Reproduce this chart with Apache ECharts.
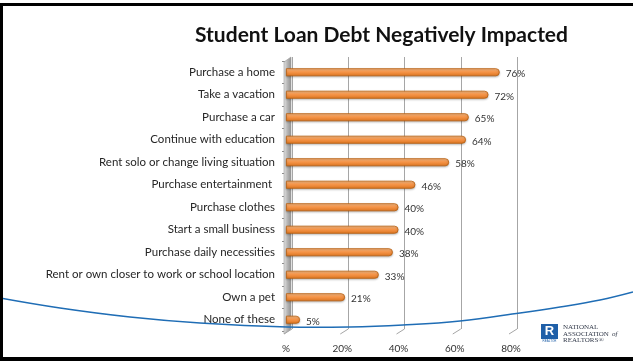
<!DOCTYPE html>
<html>
<head>
<meta charset="utf-8">
<script src="https://cdn.jsdelivr.net/npm/echarts@6/dist/echarts.min.js"></script>
<style>
  html, body { margin: 0; padding: 0; background: #fff; }
  #chart { width: 633px; height: 361px; }
</style>
</head>
<body>
<div id="chart"></div>
<script>
// Survey answers, top to bottom
const categories = [
  'Purchase a home',
  'Take a vacation',
  'Purchase a car',
  'Continue with education',
  'Rent solo or change living situation',
  'Purchase entertainment ',
  'Purchase clothes',
  'Start a small business',
  'Purchase daily necessities',
  'Rent or own closer to work or school location',
  'Own a pet',
  'None of these'
];
// Share of respondents (%)
const shares = [76, 72, 65, 64, 58, 46, 40, 40, 38, 33, 21, 5];
// Value axis ticks
const tickValues = [0, 20, 40, 60, 80];
const tickLabels = ['%', '20%', '40%', '60%', '80%'];

const FONT = 'Lato';
const chart = echarts.init(document.getElementById('chart'), null, { renderer: 'canvas' });

const frontGrid = { left: 286, top: 61, width: 225, height: 270 };
const backGrid = { left: 292, top: 57, width: 225, height: 272 };

const option = {
  backgroundColor: '#ffffff',
  animation: false,
  title: {
    text: 'Student Loan Debt Negatively Impacted',
    left: 190, top: 20,
    textStyle: { fontFamily: FONT, fontWeight: 'bold', fontSize: 21, color: '#111' }
  },
  grid: [
    Object.assign({ containLabel: false }, frontGrid),
    Object.assign({ containLabel: false }, backGrid)
  ],
  xAxis: [
    {
      gridIndex: 0, type: 'value', min: 0, max: 80, interval: 20,
      axisLine: { show: false }, axisTick: { show: false }, splitLine: { show: false },
      axisLabel: {
        margin: 13, fontFamily: FONT, fontSize: 10, color: '#333',
        formatter: v => tickLabels[tickValues.indexOf(v)]
      }
    },
    {
      gridIndex: 1, type: 'value', min: 0, max: 80, interval: 20,
      axisLine: { show: false }, axisTick: { show: false }, axisLabel: { show: false },
      splitLine: { show: true, lineStyle: { color: '#a6a6a6', width: 1 } }
    }
  ],
  yAxis: [
    {
      gridIndex: 0, type: 'category', data: categories, inverse: true,
      axisLine: { show: false },
      axisTick: { show: true, length: 4, lineStyle: { color: '#8c8c8c' } },
      axisLabel: {
        margin: 11, fontFamily: FONT, fontSize: 11.5, color: '#262626',
        padding: [5, 0, 0, 0]
      }
    },
    {
      gridIndex: 1, type: 'category', data: categories, inverse: true, show: false
    }
  ],
  series: [
    {
      // side wall and floor edges of the plot box
      type: 'custom', xAxisIndex: 0, yAxisIndex: 0, z: 1, silent: true,
      data: [0],
      renderItem: (params, api) => {
        const cs = params.coordSys;
        const x0 = cs.x, top = cs.y, bottom = cs.y + cs.height;
        const children = [{
          type: 'polygon',
          shape: { points: [[x0 - 2, top + 1], [x0 + 5, top - 4], [x0 + 5, bottom - 2], [x0 - 2, bottom + 3]] },
          style: {
            fill: new echarts.graphic.LinearGradient(0, 0, 1, 0, [
              { offset: 0, color: '#e4e4e4' },
              { offset: 0.5, color: '#b5b5b5' },
              { offset: 1, color: '#8f8f8f' }
            ]),
            stroke: '#9a9a9a', lineWidth: 0.6
          }
        }];
        tickValues.forEach(v => {
          const x = api.coord([v, 0])[0];
          children.push({
            type: 'line',
            shape: { x1: x - 2, y1: bottom + 3, x2: x + 6, y2: bottom - 2 },
            style: { stroke: '#a6a6a6', lineWidth: 1 }
          });
        });
        return { type: 'group', children };
      }
    },
    {
      type: 'bar', xAxisIndex: 0, yAxisIndex: 0, z: 3,
      data: shares, barWidth: 8,
      itemStyle: {
        color: new echarts.graphic.LinearGradient(0, 0, 0, 1, [
          { offset: 0, color: '#fbc08a' },
          { offset: 0.45, color: '#f7964a' },
          { offset: 1, color: '#d9731f' }
        ]),
        borderColor: '#b9600f', borderWidth: 0.8,
        borderRadius: [0, 4, 4, 0],
        shadowColor: 'rgba(0,0,0,0.25)', shadowBlur: 2, shadowOffsetY: 1
      },
      label: {
        show: true, position: 'right', distance: 6, offset: [0, 2],
        fontFamily: FONT, fontSize: 10, color: '#333',
        formatter: p => p.value + '%'
      }
    }
  ],
  graphic: [
    // slide frame
    { type: 'rect', shape: { x: 0, y: 3, width: 633, height: 3 }, style: { fill: '#000' }, z: 50 },
    { type: 'rect', shape: { x: 0, y: 3, width: 3, height: 358 }, style: { fill: '#000' }, z: 50 },
    { type: 'rect', shape: { x: 0, y: 357, width: 633, height: 4 }, style: { fill: '#000' }, z: 50 },
    // decorative sweep across the slide
    {
      type: 'polyline', z: 40, silent: true,
      shape: {
        smooth: 0.4,
        points: [[0, 298], [60, 308], [130, 317], [200, 323], [287, 327], [350, 327], [403, 325],
                 [460, 321], [520, 313], [560, 307], [600, 300], [633, 292]]
      },
      style: { stroke: '#1f6db5', lineWidth: 1.5, fill: null }
    },
    // association logo
    {
      type: 'group', left: 541, top: 324, z: 45, children: [
        { type: 'rect', shape: { x: 0, y: 0, width: 17, height: 15 }, style: { fill: '#1f5fa8' } },
        { type: 'text', style: { x: 8.5, y: 1, text: 'R', fill: '#fff', font: 'bold 13px "Liberation Sans"', textAlign: 'center' } },
        { type: 'text', style: { x: 8.5, y: 15.5, text: 'REALTOR', fill: '#1f5fa8', font: '3px "Liberation Sans"', textAlign: 'center' } },
        { type: 'text', style: { x: 22, y: 0, text: 'NATIONAL', fill: '#333a4a', font: '7px "Liberation Serif"' } },
        { type: 'text', style: { x: 22, y: 6.5, text: 'ASSOCIATION', fill: '#333a4a', font: '7px "Liberation Serif"' } },
        { type: 'text', style: { x: 71, y: 6.5, text: 'of', fill: '#333a4a', font: 'italic 7px "Liberation Serif"' } },
        { type: 'text', style: { x: 22, y: 13, text: 'REALTORS®', fill: '#333a4a', font: '7px "Liberation Serif"' } }
      ]
    }
  ]
};

chart.setOption(option);
</script>
</body>
</html>
